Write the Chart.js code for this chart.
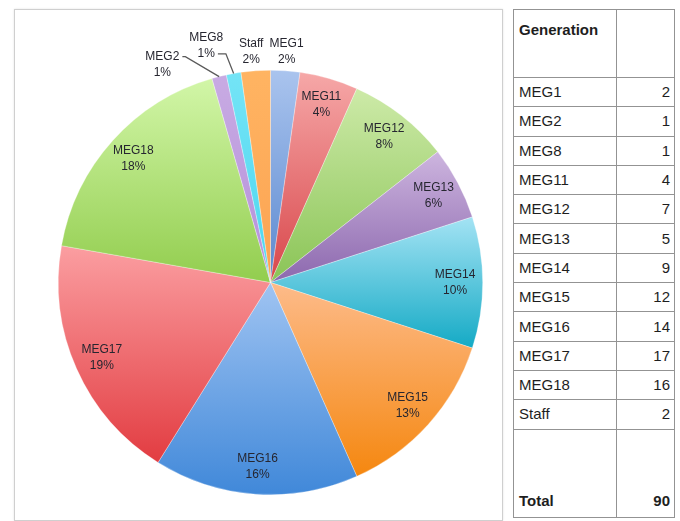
<!DOCTYPE html>
<html>
<head>
<meta charset="utf-8">
<script src="https://cdn.jsdelivr.net/npm/chart.js"></script>
<style>
  html, body { margin: 0; padding: 0; background: #fff; overflow: hidden; }
  body { width: 680px; height: 521px; position: relative; font-family: "Liberation Sans", Arial, sans-serif; }
  #box { position: absolute; left: 14px; top: 9px; width: 489px; height: 512px; border: 1.5px solid #cfcfcf; box-sizing: border-box; box-shadow: 0 0 2px #e4e4e4; }
  #wrap { position: absolute; left: 16px; top: 11px; width: 485px; height: 508px; }
  #tbl { position: absolute; left: 513px; top: 9px; width: 161px; border-collapse: collapse; font-size: 15px; color: #1e1e1e; table-layout: fixed; }
  #tbl td { border: 1.5px solid #939393; padding: 0 4px 0 5px; height: 29.3px; line-height: 16px; box-sizing: border-box; }
  #tbl td.num { text-align: right; }
  #tbl tr.head td { height: 68px; vertical-align: top; padding-top: 12px; font-weight: bold; }
  #tbl tr.total td { height: 88px; vertical-align: bottom; padding-bottom: 8px; font-weight: bold; }
</style>
</head>
<body>
<div id="box"></div>
<div id="wrap"><canvas id="pie"></canvas></div>
<table id="tbl"></table>
<script>
// table order
const generations = ['MEG1', 'MEG2', 'MEG8', 'MEG11', 'MEG12', 'MEG13', 'MEG14', 'MEG15', 'MEG16', 'MEG17', 'MEG18', 'Staff'];
const counts = [2, 1, 1, 4, 7, 5, 9, 12, 14, 17, 16, 2];
// order of slices, clockwise from 12 o'clock
const pieOrder = ['MEG1', 'MEG11', 'MEG12', 'MEG13', 'MEG14', 'MEG15', 'MEG16', 'MEG17', 'MEG18', 'MEG2', 'MEG8', 'Staff'];
const lightColors = ['#aac4ee', '#f6a8a8', '#cdeaa8', '#cdb5df', '#a4e3f4', '#fdbb8a', '#a0c4f2', '#fb9ea1', '#d2f6a8', '#c8abe3', '#74e4f6', '#ffb462'];
const darkColors  = ['#5a88cf', '#d8464a', '#8ac456', '#8c68ae', '#14aac5', '#f5870f', '#4088d9', '#e23c41', '#92cd4e', '#b590da', '#4cd6ef', '#fca352'];

const total = counts.reduce((a, b) => a + b, 0);
const pieCounts = pieOrder.map(n => counts[generations.indexOf(n)]);

// table
const tbl = document.getElementById('tbl');
let rows = '<colgroup><col style="width:103px"><col style="width:58px"></colgroup>';
rows += '<tr class="head"><td>Generation</td><td></td></tr>';
generations.forEach((g, i) => {
  rows += '<tr><td>' + g + '</td><td class="num">' + counts[i] + '</td></tr>';
});
rows += '<tr class="total"><td>Total</td><td class="num">' + total + '</td></tr>';
tbl.innerHTML = rows;

function sliceGradient(context) {
  const i = context.dataIndex;
  const {ctx, chartArea} = context.chart;
  if (!chartArea) return lightColors[i];
  const cx = (chartArea.left + chartArea.right) / 2;
  const cy = (chartArea.top + chartArea.bottom) / 2;
  const r = Math.min(chartArea.width, chartArea.height) / 2;
  let before = 0;
  for (let j = 0; j < i; j++) before += pieCounts[j];
  const a0 = before / total * 2 * Math.PI - Math.PI / 2;
  const a1 = (before + pieCounts[i]) / total * 2 * Math.PI - Math.PI / 2;
  const ys = [cy, cy + r * Math.sin(a0), cy + r * Math.sin(a1)];
  if (a0 < Math.PI / 2 && a1 > Math.PI / 2) ys.push(cy + r);
  if (a0 < 1.5 * Math.PI && a1 > 1.5 * Math.PI) ys.push(cy - r);
  const g = ctx.createLinearGradient(0, Math.min(...ys), 0, Math.max(...ys));
  g.addColorStop(0, lightColors[i]);
  g.addColorStop(1, darkColors[i]);
  return g;
}

// labels that sit outside the pie: angle shift (deg), distance past the edge, leader line
const outsideLabels = {
  'MEG1':  {shift: 0, dist: 19},
  'Staff': {shift: -0.8, dist: 19},
  'MEG8':  {shift: -5.2, dist: 33, leader: {line: 1, ext: 8}},
  'MEG2':  {shift: -12.4, dist: 31, leader: {line: 0, ext: 3}}
};

const sliceLabels = {
  id: 'sliceLabels',
  afterDatasetsDraw(chart) {
    const ctx = chart.ctx;
    const arcs = chart.getDatasetMeta(0).data;
    ctx.save();
    ctx.font = '12px "Liberation Sans", Arial, sans-serif';
    ctx.textAlign = 'center';
    ctx.textBaseline = 'middle';
    arcs.forEach((arc, i) => {
      const name = pieOrder[i];
      const lines = [name, Math.round(pieCounts[i] / total * 100) + '%'];
      const mid = (arc.startAngle + arc.endAngle) / 2;
      const out = outsideLabels[name];
      let ang = mid, dist = arc.outerRadius * 0.87;
      if (out) {
        ang = mid + out.shift * Math.PI / 180;
        dist = arc.outerRadius + out.dist;
      }
      const lx = arc.x + Math.cos(ang) * dist;
      const ly = arc.y + Math.sin(ang) * dist;
      if (out && out.leader) {
        const lineY = ly + (out.leader.line === 0 ? -8 : 8);
        const ex = lx + ctx.measureText(lines[out.leader.line]).width / 2 + 3;
        const bx = ex + out.leader.ext;
        ctx.beginPath();
        ctx.moveTo(arc.x + Math.cos(mid) * arc.outerRadius, arc.y + Math.sin(mid) * arc.outerRadius);
        ctx.lineTo(bx, lineY);
        ctx.lineTo(ex, lineY);
        ctx.strokeStyle = '#5a5a5a';
        ctx.lineWidth = 1.3;
        ctx.stroke();
      }
      ctx.fillStyle = '#262630';
      ctx.fillText(lines[0], lx, ly - 8);
      ctx.fillText(lines[1], lx, ly + 8);
    });
    ctx.restore();
  }
};

new Chart(document.getElementById('pie'), {
  type: 'pie',
  data: {
    labels: pieOrder,
    datasets: [{
      data: pieCounts,
      backgroundColor: sliceGradient,
      borderColor: 'rgba(255,255,255,0.5)',
      borderWidth: 0.6,
      hoverOffset: 0
    }]
  },
  options: {
    animation: false,
    responsive: true,
    maintainAspectRatio: false,
    layout: {
      padding: {left: 42, right: 18, top: 59, bottom: 24}
    },
    plugins: {
      legend: { display: false },
      tooltip: { enabled: false }
    }
  },
  plugins: [sliceLabels]
});
</script>
</body>
</html>
